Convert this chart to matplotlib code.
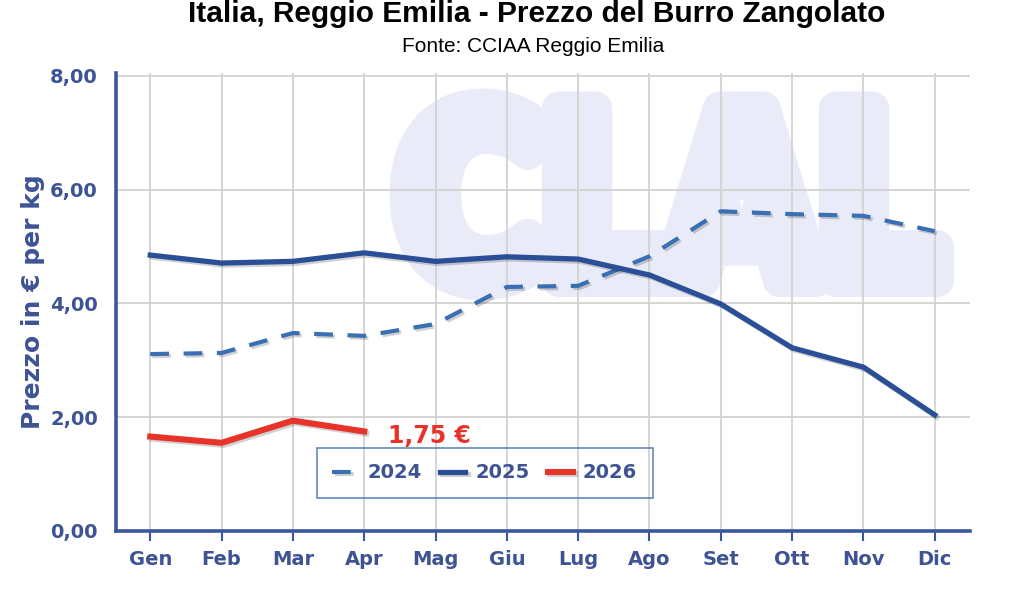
import numpy as np
import matplotlib
matplotlib.use("Agg")
import matplotlib.pyplot as plt
import matplotlib.patheffects as pe
from matplotlib.textpath import TextPath
from matplotlib.patches import PathPatch
from matplotlib.font_manager import FontProperties
from matplotlib.transforms import Affine2D

# data (EUR per kg)
months = ["Gen", "Feb", "Mar", "Apr", "Mag", "Giu", "Lug", "Ago", "Set", "Ott", "Nov", "Dic"]
price_2024 = [3.11, 3.13, 3.48, 3.43, 3.64, 4.29, 4.31, 4.83, 5.62, 5.57, 5.54, 5.27]
price_2025 = [4.85, 4.71, 4.74, 4.89, 4.74, 4.82, 4.78, 4.50, 3.99, 3.22, 2.88, 2.04]
price_2026 = [1.66, 1.55, 1.94, 1.75]
y_ticks = [0, 2, 4, 6, 8]

blue_dark = "#2b4f96"
blue_light = "#3a70b3"
red = "#e8332a"
text_blue = "#3d5394"

fig = plt.figure(figsize=(10.24, 6.14), dpi=100)
ax = fig.add_axes([0.1133, 0.1352, 0.8337, 0.7458])

x = np.arange(len(months))

# watermark logo behind the grid (fattened with a round stroke)
wm = TextPath((0, 0), "CLAL", prop=FontProperties(family="DejaVu Sans", weight="bold"))
ext = wm.get_extents()
x0, x1, y0, y1 = 0.34, 0.962, 0.54, 0.93
tr = Affine2D().translate(-ext.x0, -ext.y0).scale((x1 - x0) / ext.width, (y1 - y0) / ext.height).translate(x0, y0)
ax.add_patch(PathPatch(tr.transform_path(wm), transform=ax.transAxes, facecolor="#e9ecf8",
                       edgecolor="#e9ecf8", lw=24, joinstyle="round", zorder=0.2))

shadow = [pe.SimpleLineShadow(offset=(1.5, -1.5), alpha=0.18), pe.Normal()]

ax.plot(x, price_2024, color=blue_light, lw=3.0, dashes=(4.5, 3.5), label="2024",
        path_effects=shadow, zorder=3)
ax.plot(x, price_2025, color=blue_dark, lw=3.8, label="2025", path_effects=shadow, zorder=3)
ax.plot(x[:len(price_2026)], price_2026, color=red, lw=4.4, label="2026",
        path_effects=shadow, zorder=4)

last = len(price_2026) - 1
ax.annotate("1,75 €", xy=(x[last], price_2026[last]), xytext=(17, -3), textcoords="offset points",
            color=red, fontsize=17, fontweight="bold", va="center", ha="left")

ax.set_xlim(-0.48, 11.49)
ax.set_ylim(0, 8.05)
ax.set_xticks(x)
ax.set_xticklabels(months)
ax.set_yticks(y_ticks)
ax.set_yticklabels([f"{v:.2f}".replace(".", ",") for v in y_ticks])

ax.set_axisbelow("line")
ax.grid(True, color="#d2d2d2", lw=1.3)

for s in ["top", "right"]:
    ax.spines[s].set_visible(False)
for s in ["left", "bottom"]:
    ax.spines[s].set_color("#3b57a0")
    ax.spines[s].set_linewidth(2.6)

ax.tick_params(axis="x", length=7, width=1.5, color="#3b57a0", pad=7,
               labelsize=14, labelcolor=text_blue)
ax.tick_params(axis="y", length=0, pad=13, labelsize=14, labelcolor=text_blue)
for lab in ax.get_xticklabels() + ax.get_yticklabels():
    lab.set_fontweight("bold")

ax.set_ylabel("Prezzo in € per kg", fontsize=18, fontweight="bold", color=text_blue, labelpad=4)

leg = ax.legend(loc="center", bbox_to_anchor=(0.432, 0.127), ncol=3, frameon=True, fancybox=False,
                handlelength=1.3, handletextpad=0.5, columnspacing=0.95, borderpad=0.8,
                borderaxespad=0, prop={"weight": "bold", "size": 14})
leg.get_frame().set_edgecolor("#3a6ea5")
leg.get_frame().set_linewidth(1.2)
leg.get_frame().set_facecolor("none")
for t in leg.get_texts():
    t.set_color(text_blue)

fig.text(0.524, 0.978, "Italia, Reggio Emilia - Prezzo del Burro Zangolato", ha="center", va="center",
         fontsize=21.5, fontweight="bold", family="Liberation Sans", color="black")
fig.text(0.521, 0.925, "Fonte: CCIAA Reggio Emilia", ha="center", va="center",
         fontsize=15, family="Liberation Sans", color="black")

fig.savefig("out.png", dpi=100)
